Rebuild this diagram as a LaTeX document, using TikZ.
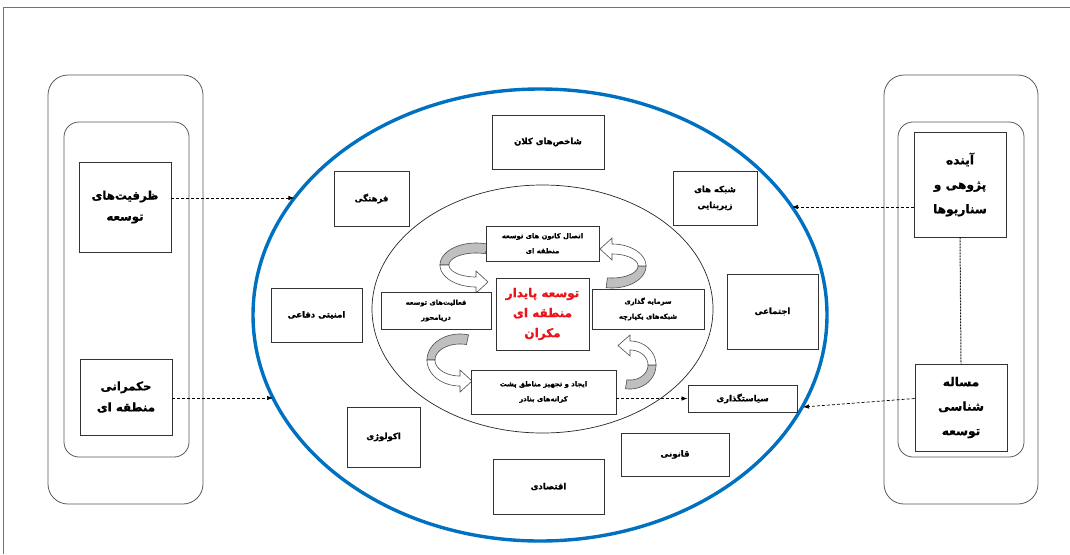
\documentclass[tikz,border=0pt]{standalone}
\usepackage{fontspec}
\newfontfamily\arabicfont[Script=Arabic, BoldFeatures={FakeBold=1}]{DejaVu Sans}
\TeXXeTstate=1
\newcommand\fa[1]{\beginR #1\endR}
\usetikzlibrary{arrows.meta}
\definecolor{ringblue}{RGB}{0,112,192}
\definecolor{centred}{RGB}{235,20,27}
% curved block arrow: cx cy rxo ryo rxi ryi start mid end
\newcommand\carrow[9]{%
  \pgfmathsetmacro\csgn{sin(#9)}%
  \filldraw[fill=black!25, draw=black!70, line width=0.6pt]
    plot[domain=#7:#8, samples=30] ({#1+#3*cos(\x)},{#2+#4*sin(\x)})
    -- plot[domain=#8:#7, samples=30] ({#1+#5*cos(\x)},{#2+#6*sin(\x)}) -- cycle;
  \filldraw[fill=white, draw=black!70, line width=0.6pt]
    plot[domain=#8:#9, samples=30] ({#1+#3*cos(\x)},{#2+#4*sin(\x)})
    -- ({#1},{#2+\csgn*(#4+6)})
    -- ({#1+\csgn*12},{#2+\csgn*(#4+#6)/2})
    -- ({#1},{#2+\csgn*(#6-6)})
    -- plot[domain=#9:#8, samples=30] ({#1+#5*cos(\x)},{#2+#6*sin(\x)}) -- cycle;
}
\begin{document}
\begin{tikzpicture}[x=1pt,y=-1pt,
  box/.style={draw=black!80, line width=0.9pt, fill=white, inner sep=1pt, align=center,
    font=\arabicfont\bfseries\fontsize{8.5}{16}\selectfont},
  smallbox/.style={box, font=\arabicfont\bfseries\fontsize{6.8}{15}\selectfont},
  bigbox/.style={box, font=\arabicfont\bfseries\fontsize{11.8}{21}\selectfont},
  sidebox/.style={box, font=\arabicfont\bfseries\fontsize{12.2}{24.5}\selectfont},
  redbox/.style={box, text=centred, font=\arabicfont\bfseries\fontsize{12}{20}\selectfont},
  panel/.style={draw=black!65, line width=0.8pt, rounded corners=20pt},
  ipanel/.style={draw=black!65, line width=0.8pt, rounded corners=15pt},
  dasharrow/.style={draw=black, line width=0.7pt, dash pattern=on 3pt off 2pt,
    -{Latex[length=6pt,width=4.5pt]}},
  dotline/.style={draw=black!90, line width=1pt, dash pattern=on 2pt off 1pt}
]
\useasboundingbox (0,0) rectangle (1070,554);
% frame
\draw[black!55, line width=0.8pt] (3,554) -- (3,7) -- (1070,7);

% side panels
\draw[panel] (48,75) rectangle (203,504);
\draw[ipanel] (64,122) rectangle (189,457);
\draw[panel] (884,75) rectangle (1038,504);
\draw[ipanel] (898,122) rectangle (1024,457);

% ellipses
\draw[ringblue, line width=3.4pt] (540,315) ellipse [x radius=287, y radius=226];
\draw[black!85, line width=0.7pt] (542.5,309) ellipse [x radius=170.5, y radius=124];

% ellipse contact points
\coordinate (eL1) at (294.4,198);
\coordinate (eL2) at (273,398);
\coordinate (eR1) at (792,207);
\coordinate (eR2) at (803,407);

% side boxes
\node[bigbox, minimum width=92, minimum height=90] (zarf) at (125,207)
  {\fa{ظرفیت‌های}\\\fa{توسعه}};
\node[bigbox, minimum width=92, minimum height=76] (hokm) at (126,397)
  {\fa{حکمرانی}\\\fa{منطقه ای}};
\node[sidebox, minimum width=92, minimum height=105] (aynde) at (960,184.5)
  {\fa{آینده}\\\fa{پژوهی و}\\\fa{سناریوها}};
\node[sidebox, minimum width=92, minimum height=87] (masale) at (961,407.5)
  {\fa{مساله}\\\fa{شناسی}\\\fa{توسعه}};

% outer ring boxes
\node[box, minimum width=112, minimum height=54] (shakhes) at (548,142) {\fa{شاخص‌های کلان}};
\node[box, minimum width=75, minimum height=55] (farhang) at (371.5,198.5) {\fa{فرهنگی}};
\node[box, minimum width=84, minimum height=54] (shabake) at (715,198) {\fa{شبکه های}\\\fa{زیربنایی}};
\node[box, minimum width=91, minimum height=54] (amniat) at (316.5,315) {\fa{امنیتی دفاعی}};
\node[box, minimum width=91, minimum height=75] (ejtemai) at (772.5,311.5) {\fa{اجتماعی}};
\node[box, minimum width=73, minimum height=60] (ecology) at (383.5,437) {\fa{اکولوژی}};
\node[box, minimum width=109, minimum height=27] (siasat) at (742.5,398.5) {\fa{سیاستگذاری}};
\node[box, minimum width=108, minimum height=43] (ghanoon) at (675,454.5) {\fa{قانونی}};
\node[box, minimum width=111, minimum height=55] (eghtesad) at (548.5,486.5) {\fa{اقتصادی}};

% curved arrows
\carrow{476}{265}{36}{22}{27}{12}{290}{180}{90}
\carrow{612}{266}{34}{22}{26}{12}{100}{0}{-90}
\carrow{460}{360}{33}{26}{25}{16}{285}{180}{90}
\carrow{630}{365}{26}{24}{18}{15}{100}{0}{-90}

% inner boxes
\node[smallbox, minimum width=113, minimum height=35] (etesal) at (542.5,243.5)
  {\fa{اتصال کانون های توسعه}\\\fa{منطقه ای}};
\node[redbox, minimum width=93, minimum height=72] (center) at (542.5,314)
  {\fa{توسعه پایدار}\\\fa{منطقه ای}\\\fa{مکران}};
\node[smallbox, minimum width=110, minimum height=37] (faaliat) at (436,310.5)
  {\fa{فعالیت‌های توسعه}\\\fa{دریامحور}};
\node[smallbox, minimum width=112, minimum height=40] (sarmaye) at (648,309)
  {\fa{سرمایه گذاری}\\\fa{شبکه‌های یکپارچه}};
\node[smallbox, minimum width=145, minimum height=44] (ijad) at (543.5,392)
  {\fa{ایجاد و تجهیز مناطق پشت}\\\fa{کرانه‌های بنادر}};

% connectors
\draw[dasharrow] (zarf.east |- eL1) -- (eL1);
\draw[dasharrow] (hokm.east |- eL2) -- (eL2);
\draw[dasharrow] (aynde.west |- eR1) -- (eR1);
\draw[dasharrow] ([yshift=9pt]masale.west) -- (eR2);
\draw[dasharrow] (ijad.east |- siasat.west) -- (siasat.west);
\draw[dotline] (aynde.south) -- (masale.north);
\end{tikzpicture}
\end{document}
